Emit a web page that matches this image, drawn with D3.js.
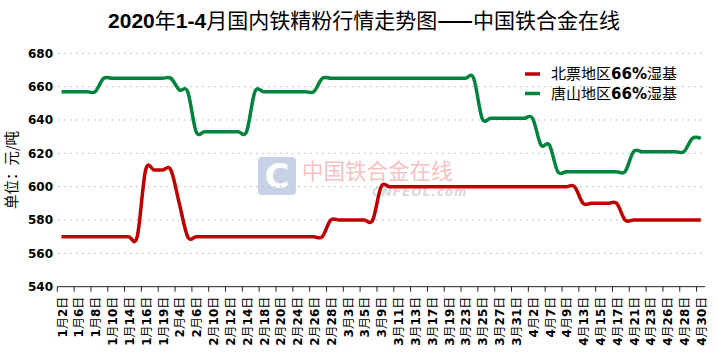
<!DOCTYPE html>
<html><head><meta charset="utf-8">
<script src="https://cdn.jsdelivr.net/npm/d3@7"></script>
<style>body{margin:0;background:#fff}svg{display:block}</style>
</head><body>
<svg id="c" width="717" height="354"></svg>
<script>
const dates = ["1月2日","1月3日","1月6日","1月7日","1月8日","1月9日","1月10日","1月13日","1月14日","1月15日",
"1月16日","1月17日","1月19日","1月20日","2月4日","2月5日","2月6日","2月7日","2月10日","2月11日",
"2月12日","2月13日","2月14日","2月17日","2月18日","2月19日","2月20日","2月21日","2月24日","2月25日",
"2月26日","2月27日","2月28日","3月2日","3月3日","3月4日","3月5日","3月6日","3月9日","3月10日",
"3月11日","3月12日","3月13日","3月16日","3月17日","3月18日","3月19日","3月20日","3月23日","3月24日",
"3月25日","3月26日","3月27日","3月30日","3月31日","4月1日","4月2日","4月3日","4月7日","4月8日",
"4月9日","4月10日","4月13日","4月14日","4月15日","4月16日","4月17日","4月20日","4月21日","4月22日",
"4月23日","4月24日","4月26日","4月27日","4月28日","4月29日","4月30日"];
const beipiao = [570,570,570,570,570,570,570,570,570,570,
610,610,610,610,590,570,570,570,570,570,
570,570,570,570,570,570,570,570,570,570,
570,570,580,580,580,580,580,580,600,600,
600,600,600,600,600,600,600,600,600,600,
600,600,600,600,600,600,600,600,600,600,
600,600,590,590,590,590,590,580,580,580,
580,580,580,580,580,580,580];
const tangshan = [657,657,657,657,657,665,665,665,665,665,
665,665,665,665,658,657,633,633,633,633,
633,633,633,657,657,657,657,657,657,657,
657,665,665,665,665,665,665,665,665,665,
665,665,665,665,665,665,665,665,665,665,
641,641,641,641,641,641,641,625,625,609,
609,609,609,609,609,609,609,609,621,621,
621,621,621,621,621,629,629];
const seriesNames = ["北票地区66%湿基","唐山地区66%湿基"];
const seriesColors = ["#c00000","#00843d"];
const yTicks = [540,560,580,600,620,640,660,680];
const titleText = "2020年1-4月国内铁精粉行情走势图——中国铁合金在线";

const svg = d3.select("#c");
const x = d3.scaleBand().domain(dates).range([57.3, 705]).padding(0);
const y = d3.scaleLinear().domain([540, 680]).range([286.7, 53.3]);
const cx = d => x(d) + x.bandwidth()/2;

function mixed(sel, str, latinFont, latinWeight, cjkWeight){
  const runs = str.match(/[\u3000-\u303f\u4e00-\u9fff\uff00-\uffef]+|——|[^\u3000-\u303f\u4e00-\u9fff\uff00-\uffef—]+/g);
  runs.forEach(r => {
    const isCjk = /[\u3000-\u303f\u4e00-\u9fff\uff00-\uffef]/.test(r);
    const isDash = r === "——";
    sel.append("tspan").text(r)
      .attr("font-family", isCjk || isDash ? "'Noto Sans CJK SC', sans-serif" : latinFont)
      .attr("font-weight", isDash ? "bold" : (isCjk ? cjkWeight : latinWeight));
  });
}

// title
const t = svg.append("text").attr("x", 364).attr("y", 28).attr("text-anchor","middle")
  .attr("font-size", 21).attr("fill","#000");
mixed(t, titleText, "'Liberation Sans', Arial, sans-serif", "bold", "normal");

// watermark
const wm = svg.append("g");
wm.append("rect").attr("x",258).attr("y",157).attr("width",38).attr("height",38).attr("rx",4).attr("fill","#c8d2e6");
wm.append("text").attr("x",277).attr("y",188).attr("text-anchor","middle").attr("font-family","'DejaVu Sans', sans-serif")
  .attr("font-weight","bold").attr("font-size",34).attr("fill","#fff").text("C");
wm.append("text").attr("x",302).attr("y",179).attr("font-family","'Noto Sans CJK SC', sans-serif")
  .attr("font-size",21.5).attr("fill","#f5c2c2").text("中国铁合金在线");
wm.append("text").attr("x",372).attr("y",196).attr("font-family","'DejaVu Sans', sans-serif").attr("font-style","italic")
  .attr("font-weight","bold").attr("font-size",12).attr("fill","#dadada").attr("letter-spacing",1).text("CNFEOL.com");

// grid
svg.append("g").selectAll("line").data(yTicks.filter(v => v > 540)).join("line")
  .attr("x1", 58).attr("x2", 705).attr("y1", d => y(d)).attr("y2", d => y(d))
  .attr("stroke","#b4b4b4").attr("stroke-width",1).attr("stroke-dasharray","1.5,4.5");

// y axis labels
const ya = svg.append("g").attr("transform","translate(53,0)")
  .call(d3.axisLeft(y).tickValues(yTicks).tickSize(0).tickPadding(0).tickFormat(d3.format("d")));
ya.select(".domain").remove();
ya.selectAll("text").attr("font-family","'DejaVu Sans', sans-serif").attr("font-weight","bold")
  .attr("font-size",12).attr("fill","#000");

// y title
svg.append("text").attr("transform","translate(17,170) rotate(-90)").attr("text-anchor","middle")
  .attr("font-family","'Noto Sans CJK SC', sans-serif").attr("font-size",14.5).attr("fill","#000").text("单位：元/吨");

// x axis
const xa = svg.append("g");
xa.append("line").attr("x1", x.range()[0]).attr("x2", x.range()[1]).attr("y1", y(540)).attr("y2", y(540))
  .attr("stroke","#222").attr("stroke-width",1);
const labeled = dates.filter((d,i) => i % 2 === 0);
xa.selectAll(".tk").data(labeled).join("line").attr("class","tk")
  .attr("x1", d => x(d)).attr("x2", d => x(d)).attr("y1", y(540)).attr("y2", y(540)+5)
  .attr("stroke","#222").attr("stroke-width",1);
xa.selectAll(".lb").data(labeled).join("text").attr("class","lb")
  .attr("transform", d => `translate(${cx(d)+0.8},${y(540)+10}) rotate(-90)`)
  .attr("text-anchor","end").attr("dy","0.36em").attr("font-size",12).attr("fill","#000")
  .each(function(d){ mixed(d3.select(this), d, "'DejaVu Sans', sans-serif", "bold", "normal"); });

// lines
const line = d3.line().x((v,i) => cx(dates[i])).y(v => y(v)).curve(d3.curveCatmullRom.alpha(0));
[beipiao, tangshan].forEach((s, k) => {
  svg.append("path").datum(s).attr("d", line).attr("fill","none")
    .attr("stroke", seriesColors[k]).attr("stroke-width",3.5).attr("stroke-linejoin","round");
});

// legend
const lg = svg.append("g");
seriesNames.forEach((n, k) => {
  const yy = 74 + k*19.5;
  lg.append("line").attr("x1",525).attr("x2",540).attr("y1",yy).attr("y2",yy)
    .attr("stroke",seriesColors[k]).attr("stroke-width",3.5);
  const tx = lg.append("text").attr("x",551).attr("y",yy).attr("dy","0.36em").attr("font-size",15).attr("fill","#000");
  mixed(tx, n, "'DejaVu Sans', sans-serif", "bold", "normal");
});
</script>
</body></html>
